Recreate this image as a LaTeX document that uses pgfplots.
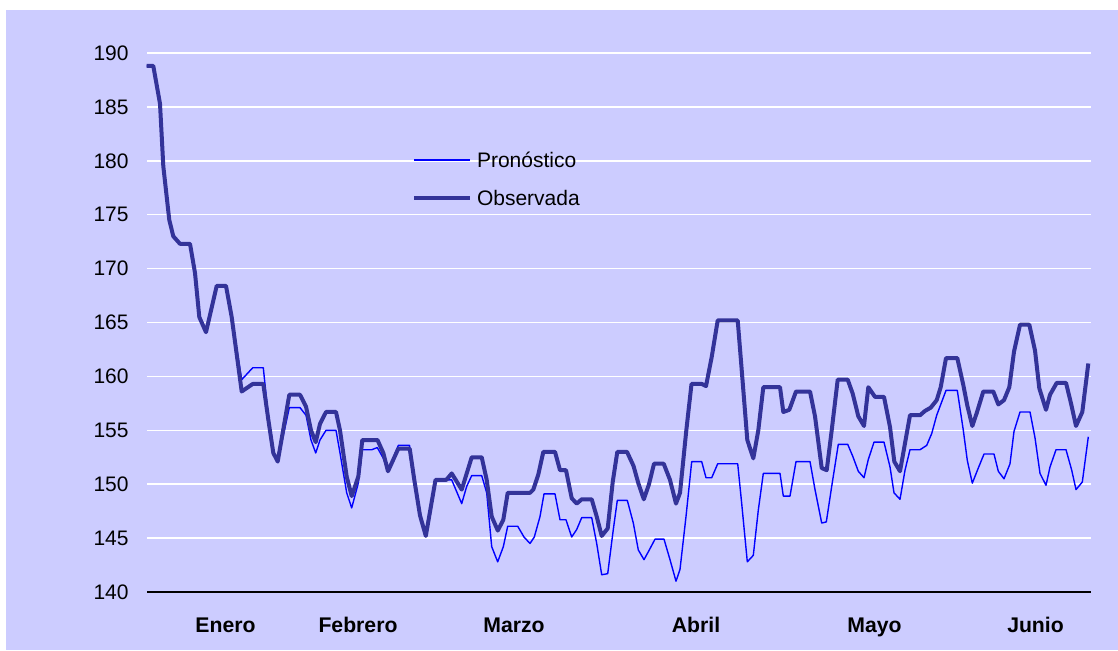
\documentclass[border=0pt]{standalone}
\usepackage{fontspec}
\setmainfont{Liberation Sans}
\usepackage{pgfplots}
\pgfplotsset{compat=1.18}
\usepackage{pgfplotstable}
\definecolor{bg}{HTML}{CCCCFF}
\definecolor{obs}{HTML}{333399}
\definecolor{pro}{HTML}{0000FF}

\pgfplotstableread{
x y
146.7 188.8
153.3 188.8
160.0 185.3
163.3 179.5
169.3 174.5
173.3 173.0
180.0 172.3
190.0 172.3
195.0 169.6
199.3 165.5
206.0 164.1
216.7 168.4
226.0 168.4
231.7 165.5
241.7 158.6
252.7 159.3
263.3 159.3
268.3 156.0
273.3 152.9
277.7 152.1
289.3 158.3
300.0 158.3
306.0 157.2
311.0 155.0
315.7 153.9
320.0 155.6
326.0 156.7
336.0 156.7
340.0 155.0
346.7 150.7
351.7 148.9
358.3 150.7
362.3 154.1
377.5 154.1
383.3 152.9
388.0 151.2
398.3 153.3
409.7 153.3
414.3 150.4
420.0 147.1
425.8 145.2
435.5 150.4
446.3 150.4
451.7 151.0
461.7 149.5
471.7 152.5
481.7 152.5
486.7 150.4
491.7 147.0
497.8 145.7
503.3 146.7
507.7 149.2
530.0 149.2
533.3 149.5
538.3 150.9
543.3 153.0
555.0 153.0
560.0 151.3
566.0 151.3
571.7 148.7
576.7 148.2
581.7 148.6
591.7 148.6
596.7 147.0
601.7 145.2
607.7 145.9
612.7 150.2
617.3 153.0
627.0 153.0
633.5 151.7
638.3 150.1
643.8 148.6
649.0 150.0
654.0 151.9
663.7 151.9
670.0 150.4
676.0 148.2
680.0 149.2
686.3 155.0
691.5 159.3
701.7 159.3
706.0 159.1
711.7 161.8
717.7 165.2
737.7 165.2
741.7 160.6
747.3 154.1
753.3 152.4
758.3 155.0
763.3 159.0
780.0 159.0
783.3 156.7
789.3 156.9
796.0 158.6
810.0 158.6
815.0 156.3
821.7 151.5
826.7 151.3
831.7 155.0
837.7 159.7
847.7 159.7
852.7 158.4
858.3 156.3
864.0 155.4
868.3 159.0
875.0 158.1
884.0 158.1
890.0 155.3
894.3 152.1
900.0 151.2
905.0 153.8
910.0 156.4
920.0 156.4
925.0 156.8
930.7 157.1
936.7 157.8
940.7 159.0
946.0 161.7
957.3 161.7
963.3 159.2
967.3 157.3
972.3 155.4
976.7 156.6
983.3 158.6
993.3 158.6
998.3 157.4
1004.0 157.8
1009.3 159.0
1014.0 162.3
1020.0 164.8
1029.3 164.8
1035.0 162.4
1039.3 158.9
1046.0 156.9
1050.0 158.3
1056.7 159.4
1066.0 159.4
1071.0 157.5
1076.0 155.4
1082.3 156.7
1088.3 161.2
}\obsdata

\pgfplotstableread{
x y
146.7 188.8
153.3 188.8
160.0 185.3
163.3 179.5
169.3 174.5
173.3 173.0
180.0 172.3
190.0 172.3
195.0 169.6
199.3 165.5
206.0 164.1
216.7 168.4
226.0 168.4
231.7 165.5
241.7 159.7
252.7 160.8
263.3 160.8
268.3 156.3
273.3 152.9
277.7 152.1
289.3 157.1
300.0 157.1
306.0 156.4
311.0 154.1
315.7 152.9
320.0 154.1
326.0 155.0
336.0 155.0
340.0 152.9
346.7 149.2
351.7 147.8
358.3 150.1
362.3 153.2
371.7 153.2
377.3 153.4
383.3 152.4
388.0 151.2
398.3 153.6
409.5 153.6
414.3 150.4
420.0 147.1
425.8 145.2
435.5 150.4
451.7 150.4
461.7 148.2
466.7 149.8
471.7 150.8
481.7 150.8
486.7 149.2
491.7 144.2
497.7 142.8
503.3 144.2
507.7 146.1
517.7 146.1
524.0 145.1
530.0 144.5
534.3 145.1
540.0 147.0
544.0 149.1
555.0 149.1
560.0 146.7
566.0 146.7
571.7 145.1
576.7 145.8
581.7 146.9
591.7 146.9
596.7 144.5
601.7 141.6
607.7 141.7
613.3 145.8
617.3 148.5
627.3 148.5
633.3 146.4
638.3 143.9
644.0 143.0
649.3 143.9
655.0 144.9
664.0 144.9
670.0 143.0
676.0 141.0
680.0 142.1
686.0 147.0
691.7 152.1
701.7 152.1
706.0 150.6
711.7 150.6
717.7 151.9
737.7 151.9
741.7 148.2
747.3 142.8
753.3 143.4
758.3 147.6
763.3 151.0
780.0 151.0
783.3 148.9
790.0 148.9
796.0 152.1
810.0 152.1
815.0 149.5
821.7 146.4
826.3 146.5
831.7 149.8
838.3 153.7
847.7 153.7
852.7 152.6
858.3 151.2
864.0 150.6
868.3 152.3
874.0 153.9
884.0 153.9
890.0 151.6
894.0 149.2
900.0 148.6
905.0 151.3
910.0 153.2
920.0 153.2
926.7 153.6
931.7 154.7
936.7 156.4
946.0 158.7
957.3 158.7
963.3 155.0
967.3 152.2
972.3 150.1
978.3 151.5
984.0 152.8
994.0 152.8
998.3 151.2
1004.0 150.5
1010.0 151.9
1014.0 154.9
1020.0 156.7
1030.0 156.7
1035.0 154.3
1040.0 151.0
1046.0 149.9
1050.0 151.6
1056.0 153.2
1066.0 153.2
1071.7 151.3
1076.0 149.5
1082.3 150.2
1088.3 154.4
}\prodata

\begin{document}
\begin{tikzpicture}
\fill[white] (0,0) rectangle (559pt,325pt);
\fill[bg] (3pt,0) rectangle (559pt,320pt);
\begin{axis}[
  at={(73.5pt,29pt)}, anchor=south west,
  scale only axis, width=471.85pt, height=269.5pt,
  xmin=147, xmax=1090.7, ymin=140, ymax=190,
  ytick={140,145,...,190},
  xtick={225.5,358,514,696,874.5,1035.5},
  xticklabels={Enero,Febrero,Marzo,Abril,Mayo,Junio},
  axis line style={draw=none},
  major tick length=0pt,
  ymajorgrids, grid style={white, line width=0.75pt},
  font=\fontsize{10.5}{12.6}\selectfont,
  /pgf/number format/assume math mode=true,
  yticklabel style={anchor=east, inner sep=0pt, xshift=-9pt},
  xticklabel style={anchor=base, inner sep=0pt, yshift=-20.35pt, font=\fontsize{10.6}{12.6}\selectfont\bfseries},
  clip=false,
  legend cell align=left,
  legend image code/.code={\draw[#1] (0pt,0pt) -- (27.85pt,0pt);},
  legend style={draw=none, fill=none, at={(0.2805,0.766)}, anchor=west,
    inner sep=0pt, row sep=11.3pt, font=\fontsize{10.5}{12.6}\selectfont,
    nodes={inner sep=0pt, text height=7.7pt, text depth=0pt},
    /tikz/every odd column/.append style={column sep=2.6pt}},
]
\addplot[pro, line width=0.7pt, line join=round] table[x=x,y=y] {\prodata};
\addlegendentry{Pronóstico}
\addplot[obs, line width=2pt, line join=round] table[x=x,y=y] {\obsdata};
\addlegendentry{Observada}
\draw[black, line width=1pt] (axis cs:147,140) -- (axis cs:1090.7,140);
\end{axis}
\end{tikzpicture}
\end{document}
